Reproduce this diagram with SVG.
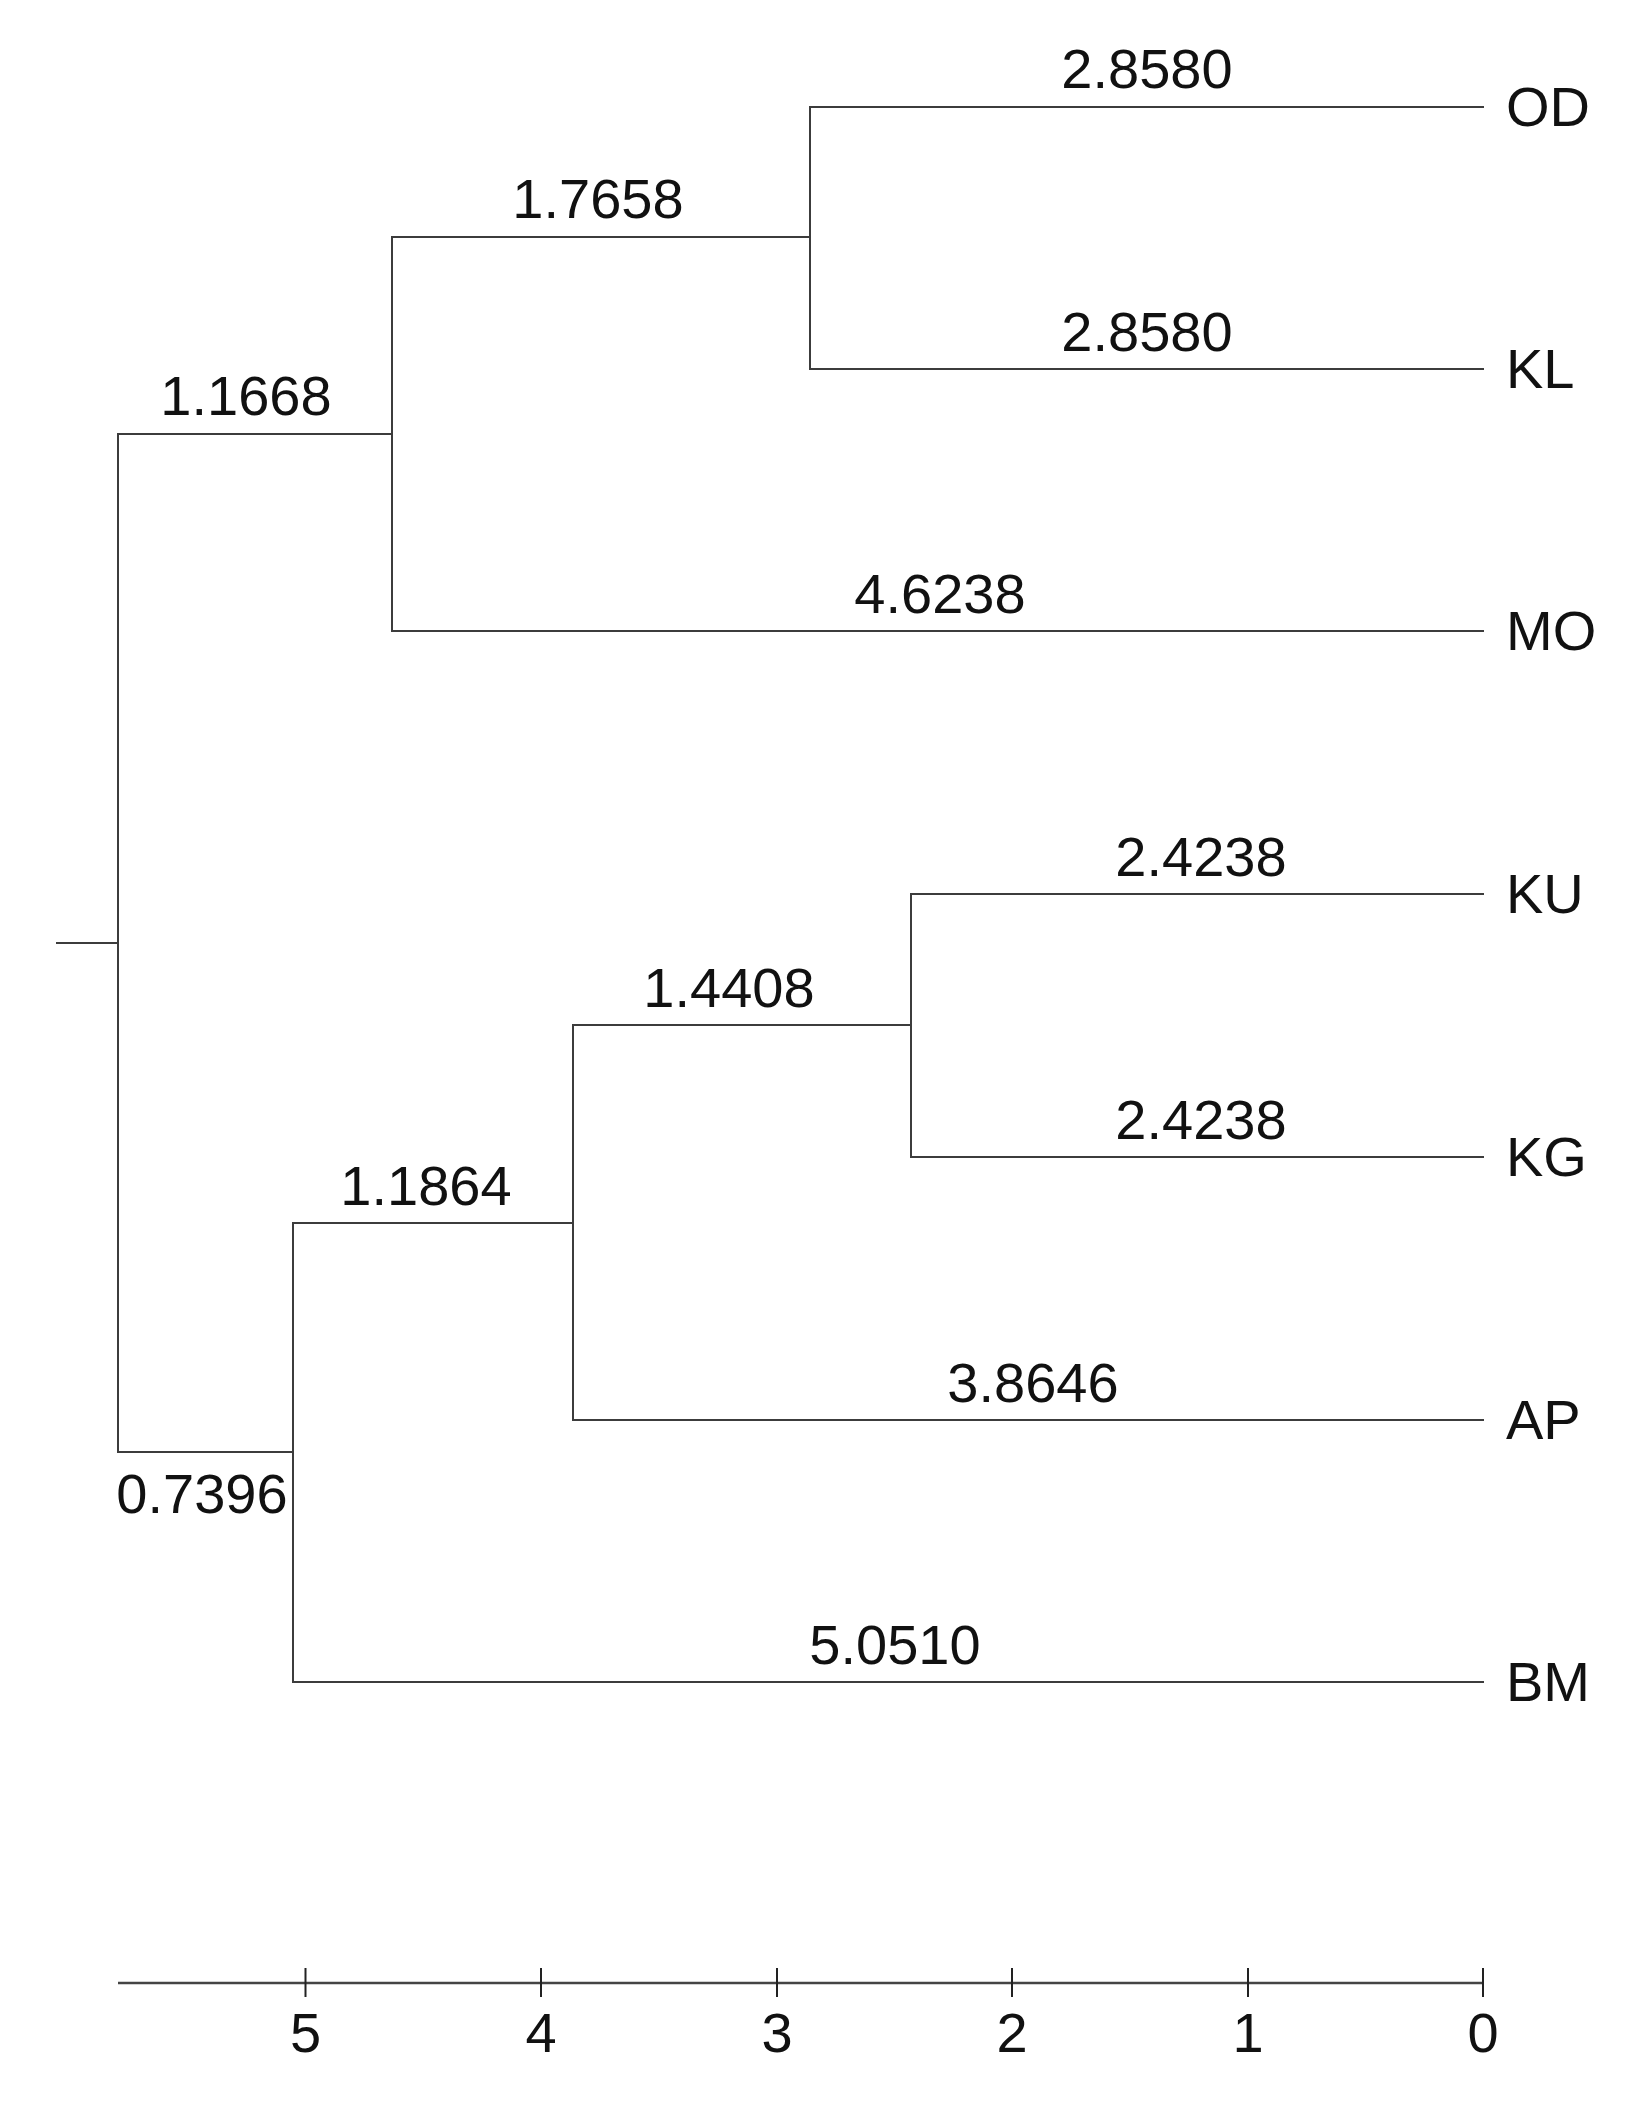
<svg xmlns="http://www.w3.org/2000/svg" width="1651" height="2101" viewBox="0 0 1651 2101">
<style>
.br{fill:none;stroke:#3c3c3c;stroke-width:2;stroke-linecap:square}
.ax{fill:none;stroke:#444;stroke-width:2.4}
.tk{fill:none;stroke:#222;stroke-width:2}
text{font-family:"Liberation Sans",Arial,sans-serif;font-size:56px;fill:#111}
.bl{text-anchor:middle}
.tl{text-anchor:middle}
</style>
<rect width="1651" height="2101" fill="#fff"/>
<g id="connectors">
<path class="br" d="M57,943H118"/>
<path class="br" d="M118,434V1452"/>
<path class="br" d="M118,434H392"/>
<path class="br" d="M392,237V631"/>
<path class="br" d="M392,237H810"/>
<path class="br" d="M810,107V369"/>
<path class="br" d="M810,107H1483"/>
<path class="br" d="M810,369H1483"/>
<path class="br" d="M392,631H1483"/>
<path class="br" d="M118,1452H293"/>
<path class="br" d="M293,1223V1682"/>
<path class="br" d="M293,1223H573"/>
<path class="br" d="M573,1025V1420"/>
<path class="br" d="M573,1025H911"/>
<path class="br" d="M911,894V1157"/>
<path class="br" d="M911,894H1483"/>
<path class="br" d="M911,1157H1483"/>
<path class="br" d="M573,1420H1483"/>
<path class="br" d="M293,1682H1483"/>
</g>
<g id="branch-labels">
<text class="bl" x="246" y="415">1.1668</text>
<text class="bl" x="598" y="218">1.7658</text>
<text class="bl" x="1147" y="88">2.8580</text>
<text class="bl" x="1147" y="351">2.8580</text>
<text class="bl" x="940" y="613">4.6238</text>
<text class="bl" x="1201" y="876">2.4238</text>
<text class="bl" x="1201" y="1139">2.4238</text>
<text class="bl" x="729" y="1007">1.4408</text>
<text class="bl" x="426" y="1205">1.1864</text>
<text class="bl" x="1033" y="1402">3.8646</text>
<text class="bl" x="895" y="1664">5.0510</text>
<text class="bl" x="202" y="1513">0.7396</text>
</g>
<g id="node-OD"><text x="1506" y="126">OD</text></g>
<g id="node-KL"><text x="1506" y="388">KL</text></g>
<g id="node-MO"><text x="1506" y="650">MO</text></g>
<g id="node-KU"><text x="1506" y="913">KU</text></g>
<g id="node-KG"><text x="1506" y="1176">KG</text></g>
<g id="node-AP"><text x="1506" y="1439">AP</text></g>
<g id="node-BM"><text x="1506" y="1701">BM</text></g>
<g id="axis">
<path class="ax" d="M118,1983H1483"/>
<path class="tk" d="M305.5,1968V1997M541,1968V1997M777,1968V1997M1012,1968V1997M1248,1968V1997M1483,1968V1997"/>
<text class="tl" x="305.5" y="2052">5</text>
<text class="tl" x="541" y="2052">4</text>
<text class="tl" x="777" y="2052">3</text>
<text class="tl" x="1012" y="2052">2</text>
<text class="tl" x="1248" y="2052">1</text>
<text class="tl" x="1483" y="2052">0</text>
</g>
</svg>
